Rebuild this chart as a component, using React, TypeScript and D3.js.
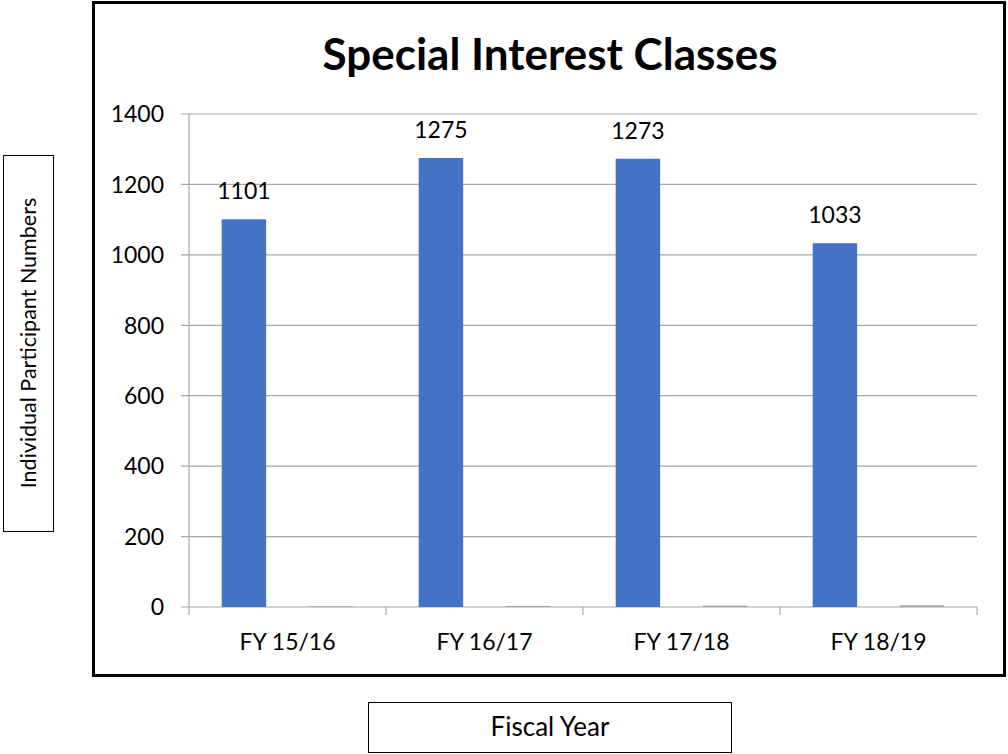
import React from 'react';
import * as d3 from 'd3';

const categories = ['FY 15/16', 'FY 16/17', 'FY 17/18', 'FY 18/19'];
const participants = [1101, 1275, 1273, 1033];
const secondSeries = [2, 3, 4, 5];
const yTicks = [0, 200, 400, 600, 800, 1000, 1200, 1400];

const W = 1008;
const H = 754;
const margin = {left: 189, right: 31, top: 114, bottom: 147};
const font = 'Lato, "Open Sans", sans-serif';

export default function App() {
    const width = W - margin.left - margin.right;
    const height = H - margin.top - margin.bottom;

    const x = d3.scaleBand().domain(categories).range([0, width]).paddingInner(0).paddingOuter(0);
    const inner = d3.scaleBand().domain(['a', 'b']).range([0, x.bandwidth()]).paddingInner(0.49).paddingOuter(0.375);
    const y = d3.scaleLinear().domain([0, 1400]).range([height, 0]);

    return (
        <svg width={W} height={H} style={{position: 'absolute', left: 0, top: 0, background: '#fff'}}>
            {/* chart border */}
            <rect x={93.5} y={2.5} width={911} height={673} fill='none' stroke='#000' strokeWidth={3} />
            <text x={550} y={70} textAnchor='middle' fontFamily={font} fontWeight='bold' fontSize={44} fill='#000'>
                Special Interest Classes
            </text>

            <g transform={'translate(' + margin.left + ',' + margin.top + ')'}>
                {yTicks.map(t => (
                    <g key={t}>
                        <line x1={-8} x2={width} y1={y(t)} y2={y(t)} stroke='#a6a6a6' strokeWidth={1.2} />
                        <text x={-25} y={y(t)} dy='0.36em' textAnchor='end' fontFamily={font} fontSize={23} fill='#000'>{t}</text>
                    </g>
                ))}
                <line x1={0} x2={0} y1={0} y2={height} stroke='#a6a6a6' strokeWidth={1.2} />
                {categories.map(c => (
                    <line key={'t' + c} x1={x(c)! + x.bandwidth()} x2={x(c)! + x.bandwidth()} y1={height} y2={height + 8} stroke='#a6a6a6' strokeWidth={1.2} />
                ))}
                <line x1={0} x2={0} y1={height} y2={height + 8} stroke='#a6a6a6' strokeWidth={1.2} />

                {categories.map((c, i) => (
                    <g key={c} transform={'translate(' + x(c) + ',0)'}>
                        <rect x={inner('a')} y={y(participants[i])} width={inner.bandwidth()} height={height - y(participants[i])} fill='#4472c4' />
                        <rect x={inner('b')} y={y(secondSeries[i])} width={inner.bandwidth()} height={height - y(secondSeries[i])} fill='#a5a5a5' />
                        <text x={inner('a')! + inner.bandwidth() / 2} y={y(participants[i]) - 20} textAnchor='middle' fontFamily={font} fontSize={23} fill='#000'>
                            {participants[i]}
                        </text>
                        <text x={x.bandwidth() / 2} y={height + 43} textAnchor='middle' fontFamily={font} fontSize={23} fill='#000'>{c}</text>
                    </g>
                ))}
            </g>

            {/* axis title boxes */}
            <rect x={3.5} y={155.5} width={50} height={376} fill='#fff' stroke='#000' strokeWidth={1} />
            <text transform='translate(28,343) rotate(-90)' dy='0.35em' textAnchor='middle' fontFamily={font} fontSize={21.5} fill='#000'>
                Individual Participant Numbers
            </text>
            <rect x={368.5} y={702.5} width={363} height={50} fill='#fff' stroke='#000' strokeWidth={1} />
            <text x={550} y={727} dy='0.36em' textAnchor='middle' fontFamily={font} fontSize={26} fill='#000'>Fiscal Year</text>
        </svg>
    );
}
